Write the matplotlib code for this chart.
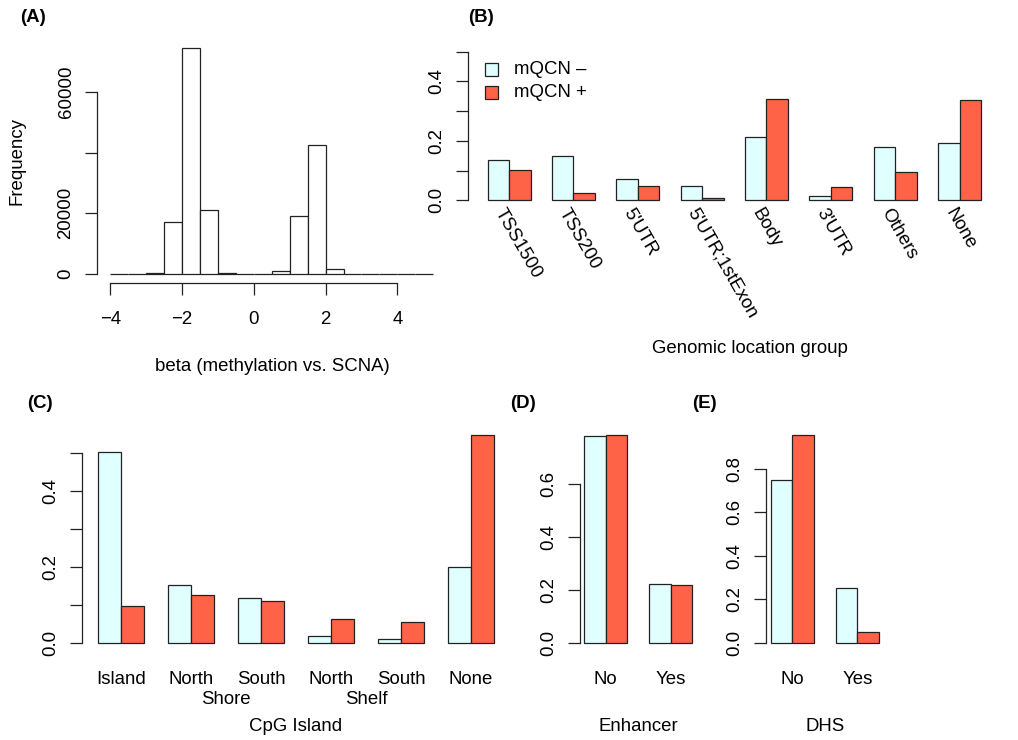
import numpy as np
import matplotlib
matplotlib.use("Agg")
import matplotlib.pyplot as plt
from matplotlib.transforms import blended_transform_factory

plt.rcParams['font.family'] = ['Liberation Sans', 'DejaVu Sans']
FS = 13.4
LW = 0.9
EDGE = '#222222'
COL_NEG = '#E0FFFF'   # lightcyan
COL_POS = '#FF6347'   # tomato

# ---- data ----
hist_edges = np.arange(-4.0, 5.01, 0.5)
hist_counts = [30, 80, 450, 17100, 74400, 21000, 250, 20, 60,
               1100, 19000, 42400, 1550, 90, 30, 10, 20, 5]

loc_groups = ["TSS1500", "TSS200", "5'UTR", "5'UTR;1stExon", "Body", "3'UTR", "Others", "None"]
loc_neg = [0.134, 0.149, 0.072, 0.048, 0.212, 0.014, 0.179, 0.194]
loc_pos = [0.103, 0.026, 0.048, 0.006, 0.342, 0.046, 0.094, 0.337]

cpg_groups = ["Island", "North", "South", "North", "South", "None"]
cpg_neg = [0.504, 0.153, 0.117, 0.019, 0.011, 0.199]
cpg_pos = [0.097, 0.127, 0.111, 0.063, 0.055, 0.547]

enh_groups = ["No", "Yes"]
enh_neg = [0.779, 0.221]
enh_pos = [0.782, 0.218]

dhs_groups = ["No", "Yes"]
dhs_neg = [0.748, 0.252]
dhs_pos = [0.953, 0.047]

W, H = 1018, 740
fig = plt.figure(figsize=(W / 100, H / 100), dpi=100)


def px_axes(x0, x1, y0, y1):
    return fig.add_axes([x0 / W, 1 - y1 / H, (x1 - x0) / W, (y1 - y0) / H])


def rlim(lo, hi):
    d = (hi - lo) * 0.04
    return lo - d, hi + d


def style_axis(ax, yticks, ylabels, ybounds):
    for s in ['top', 'right', 'bottom']:
        ax.spines[s].set_visible(False)
    ax.spines['left'].set_bounds(*ybounds)
    ax.spines['left'].set_linewidth(LW)
    ax.spines['left'].set_color(EDGE)
    ax.set_yticks(yticks)
    ax.set_yticklabels(ylabels)
    ax.tick_params(axis='y', direction='out', length=8.4, width=LW, color=EDGE,
                   labelsize=FS, pad=8, labelrotation=90)
    for lab in ax.get_yticklabels():
        lab.set_va('center')
    ax.set_xticks([])
    ax.patch.set_visible(False)


def fy(ypx):
    return 1 - ypx / H


def barplot(ax, neg, pos):
    n = len(neg)
    left_neg = np.arange(n) * 3 + 1
    ax.bar(left_neg, neg, width=1, align='edge', color=COL_NEG, edgecolor=EDGE, lw=LW)
    ax.bar(left_neg + 1, pos, width=1, align='edge', color=COL_POS, edgecolor=EDGE, lw=LW)
    ax.set_xlim(*rlim(1, 3 * n))
    return left_neg + 1


# ---- (A) histogram ----
axA = px_axes(97.3, 446.2, 39.2, 283)
axA.bar(hist_edges[:-1], hist_counts, width=0.5, align='edge', facecolor='white',
        edgecolor=EDGE, lw=LW)
axA.set_xlim(*rlim(-4, 5))
axA.set_ylim(*rlim(0, max(hist_counts)))
style_axis(axA, [0, 20000, 40000, 60000], ['0', '20000', '', '60000'], (0, 60000))
axA.spines['bottom'].set_visible(True)
axA.spines['bottom'].set_bounds(-4, 4)
axA.spines['bottom'].set_linewidth(LW)
axA.spines['bottom'].set_color(EDGE)
axA.set_xticks([-4, -2, 0, 2, 4])
axA.set_xticklabels(['\u22124', '\u22122', '0', '2', '4'])
axA.tick_params(axis='x', direction='out', length=8.4, width=LW, color=EDGE,
                labelsize=FS, pad=12)
fig.text(17 / W, fy(161), 'Frequency', rotation=90, ha='center', va='center', fontsize=FS)
fig.text(272 / W, fy(367), 'beta (methylation vs. SCNA)', ha='center', va='center', fontsize=FS)

# ---- (B) genomic location ----
axB = px_axes(467.9, 1000.7, 45.8, 206.2)
centers = barplot(axB, loc_neg, loc_pos)
axB.set_ylim(*rlim(0, 0.5))
style_axis(axB, [0, 0.1, 0.2, 0.3, 0.4, 0.5], ['0.0', '', '0.2', '', '0.4', ''], (0, 0.5))
trB = blended_transform_factory(axB.transData, fig.transFigure)
for c, lab in zip(centers, loc_groups):
    axB.text(c - 0.15, fy(205), lab, transform=trB, rotation=-60, rotation_mode='anchor',
             ha='left', va='top', fontsize=FS)
fig.text(750 / W, fy(348), 'Genomic location group', ha='center', va='center', fontsize=FS)
# legend
for i, (lab, col) in enumerate([('mQCN \u2013', COL_NEG), ('mQCN +', COL_POS)]):
    yc = 69.2 + i * 23.5
    fig.patches.append(plt.Rectangle((485 / W, fy(yc + 6.3)), 12.7 / W, 12.7 / H,
                                     transform=fig.transFigure, facecolor=col,
                                     edgecolor=EDGE, lw=LW))
    fig.text(514 / W, fy(yc), lab, ha='left', va='center', fontsize=FS)

# ---- (C) CpG island ----
axC = px_axes(81.8, 510.1, 427.2, 651)
centers = barplot(axC, cpg_neg, cpg_pos)
axC.set_ylim(*rlim(0, max(cpg_pos + cpg_neg)))
style_axis(axC, [0, 0.1, 0.2, 0.3, 0.4, 0.5], ['0.0', '', '0.2', '', '0.4', ''], (0, 0.5))
trC = blended_transform_factory(axC.transData, fig.transFigure)
for c, lab in zip(centers, cpg_groups):
    axC.text(c, fy(679.5), lab, transform=trC, ha='center', va='center', fontsize=FS)
axC.text((centers[1] + centers[2]) / 2, fy(700), 'Shore', transform=trC,
         ha='center', va='center', fontsize=FS)
axC.text((centers[3] + centers[4]) / 2, fy(700), 'Shelf', transform=trC,
         ha='center', va='center', fontsize=FS)
fig.text(296 / W, fy(726.7), 'CpG Island', ha='center', va='center', fontsize=FS)

# ---- (D) enhancer ----
axD = px_axes(579.7, 696.6, 427.2, 651)
centers = barplot(axD, enh_neg, enh_pos)
axD.set_ylim(*rlim(0, max(enh_pos + enh_neg)))
style_axis(axD, [0, 0.2, 0.4, 0.6], ['0.0', '0.2', '0.4', '0.6'], (0, 0.6))
trD = blended_transform_factory(axD.transData, fig.transFigure)
for c, lab in zip(centers, enh_groups):
    axD.text(c, fy(679.5), lab, transform=trD, ha='center', va='center', fontsize=FS)
fig.text(638.2 / W, fy(726.7), 'Enhancer', ha='center', va='center', fontsize=FS)

# ---- (E) DHS ----
axE = px_axes(766.3, 883.4, 427.2, 651)
centers = barplot(axE, dhs_neg, dhs_pos)
axE.set_ylim(*rlim(0, max(dhs_pos + dhs_neg)))
style_axis(axE, [0, 0.2, 0.4, 0.6, 0.8], ['0.0', '0.2', '0.4', '0.6', '0.8'], (0, 0.8))
trE = blended_transform_factory(axE.transData, fig.transFigure)
for c, lab in zip(centers, dhs_groups):
    axE.text(c, fy(679.5), lab, transform=trE, ha='center', va='center', fontsize=FS)
fig.text(825 / W, fy(726.7), 'DHS', ha='center', va='center', fontsize=FS)

# ---- panel letters ----
for lab, x, y in [('(A)', 20, 17), ('(B)', 468, 17), ('(C)', 27, 403),
                  ('(D)', 510, 403), ('(E)', 692, 403)]:
    fig.text(x / W, fy(y), lab, ha='left', va='center', fontsize=FS, fontweight='bold')

fig.savefig('out.png', dpi=100)
